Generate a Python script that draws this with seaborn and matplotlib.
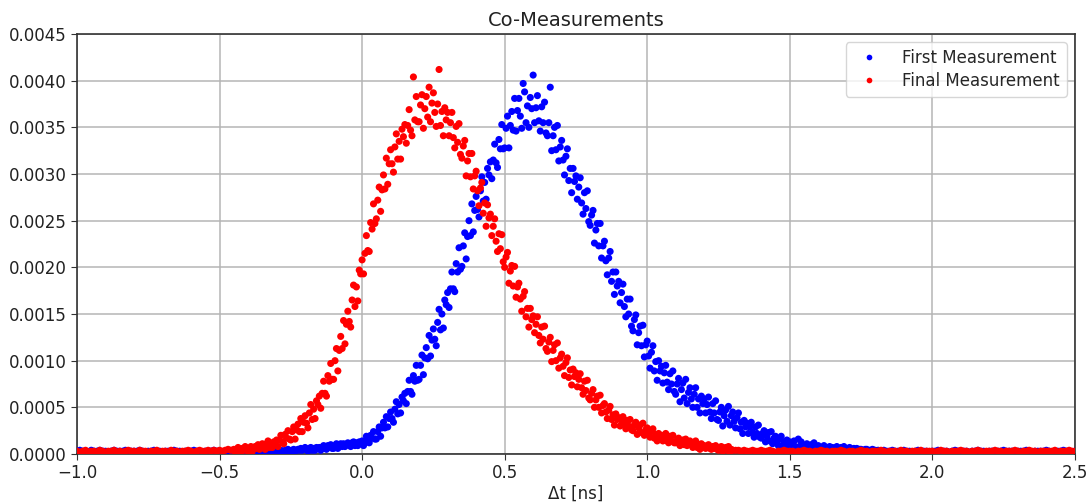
import numpy as np
import pandas as pd
import seaborn as sns
import matplotlib
matplotlib.use("Agg")
import matplotlib.pyplot as plt
from matplotlib.ticker import FuncFormatter

# counts per bin, in units of 1e-5
# Final Measurement (red)
final_left = [3, 2, 3, 4, 2, 3, 3, 2, 4, 3, 2, 3, 3, 4, 2, 3, 2, 3, 4, 3,
              3, 2, 4, 3, 3, 2, 3, 3, 4, 2, 3, 3, 2, 4, 3, 3, 2, 3, 3, 4,
              3, 2, 3, 4, 3, 3, 4, 3, 4, 3, 4, 3, 4, 5, 4]          # -1.00 .. -0.46, step 0.01
final_core = [
    5, 2, 5, 7, 3, 2, 6, 4, 8, 4,
    3, 6, 8, 3, 6, 8, 6, 10, 5, 8,
    11, 8, 5, 11, 14, 7, 11, 7, 13, 11,
    15, 8, 15, 20, 13, 11, 21, 17, 25, 16,
    15, 24, 29, 16, 26, 32, 24, 38, 24, 34,
    41, 33, 28, 44, 53, 37, 48, 38, 57, 53,
    62, 49, 65, 78, 65, 62, 84, 78, 97, 80,
    80, 100, 113, 89, 111, 126, 113, 143, 118, 139,
    153, 142, 136, 165, 181, 158, 179, 164, 197, 193,
    208, 193, 215, 234, 218, 217, 248, 241, 268, 247,
    252, 272, 286, 260, 283, 299, 284, 317, 289, 311,
    326, 311, 302, 329, 343, 316, 335, 316, 348, 340,
    353, 333, 352, 369, 347, 341, 404, 358, 383, 356,
    356, 374, 385, 349, 370, 383, 361, 393, 356, 376,
    387, 366, 351, 375, 412, 352, 367, 341, 371, 358,
    366, 341, 355, 366, 339, 328, 351, 334, 354, 321,
    317, 330, 336, 298, 314, 322, 297, 322, 284, 298,
    303, 282, 266, 285, 291, 258, 269, 244, 267, 253,
    257, 234, 244, 252, 228, 217, 236, 220, 235, 206,
    200, 211, 216, 183, 196, 202, 180, 201, 168, 179,
    183, 166, 153, 169, 174, 147, 156, 136, 156, 144,
    148, 130, 139, 147, 127, 119, 136, 123, 137, 113,
    110, 120, 125, 99, 111, 117, 100, 119, 92, 103,
    107, 94, 84, 98, 103, 82, 90, 74, 91, 83,
    87, 72, 80, 86, 71, 64, 78, 68, 79, 60,
    58, 65, 69, 50, 58, 62, 50, 63, 44, 52,
    54, 45, 38, 47, 51, 37, 42, 31, 43, 37,
    39, 30, 36, 40, 31, 27, 36, 30, 37, 26,
    25, 31, 34, 21, 28, 31, 23, 33, 20, 26,
    28, 22, 18, 24, 27, 17, 21, 14, 22, 18,
    20, 14, 18, 22, 14, 12, 19, 14, 20, 12,
    12, 15, 17, 9, 13, 15, 10, 16, 9, 12,
    14, 10, 7, 12, 14, 7, 10, 5, 11, 8,
    9, 6, 8, 10, 6, 5, 8, 6, 9, 5,
    4, 7, 8, 3, 5, 7, 4, 8, 2, 5,
    4]                                                          # -0.45 .. 1.30, step 0.005
final_right = [
    4, 4, 3, 4, 3, 3, 4, 3, 3, 4, 3, 3, 4, 3, 2, 3, 3, 4, 3, 3,
    3, 2, 3, 3, 4, 3, 3, 2, 3, 3, 4, 3, 3, 2, 3, 3, 3, 4, 3, 2,
    3, 3, 2, 3, 4, 3, 3, 2, 3, 3, 3, 4, 3, 2, 3, 3, 3, 2, 4, 3,
    3, 2, 3, 3, 3, 4, 2, 3, 3, 3, 2, 3, 4, 3, 3, 2, 3, 3, 3, 4,
    3, 3, 2, 3, 3, 4, 3, 2, 3, 3, 3, 4, 3, 3, 2, 3, 3, 3, 4, 3,
    2, 3, 3, 4, 3, 3, 2, 3, 3, 3, 3, 3, 4, 2, 3, 3, 3, 4, 3, 3]  # 1.31 .. 2.50, step 0.01

# First Measurement (blue)
first_left = [3, 4, 3, 3, 2, 4, 3, 3, 4, 3, 3, 2, 3, 4, 3, 3, 3, 4, 2, 3,
              3, 3, 4, 3, 2, 3, 3, 4, 3, 3, 2, 3, 3, 3, 4, 3, 3, 2, 3, 3,
              3, 4, 3, 3, 2, 3, 3, 3, 4, 3, 3, 2, 3, 3, 3, 4, 3, 2, 3, 3,
              3, 3, 2, 3, 4, 3, 3, 2, 3, 3]                    # -1.00 .. -0.31, step 0.01
first_core = [
    4, 2, 3, 4, 3, 2, 4, 4, 5, 3,
    3, 4, 5, 3, 4, 5, 4, 6, 4, 5,
    7, 5, 3, 6, 7, 4, 6, 4, 7, 6,
    7, 4, 7, 9, 6, 5, 9, 7, 10, 6,
    6, 9, 11, 6, 9, 11, 8, 11, 8, 10,
    12, 10, 8, 12, 13, 9, 12, 9, 13, 12,
    14, 9, 14, 19, 13, 12, 20, 17, 24, 16,
    16, 24, 29, 19, 28, 34, 28, 40, 29, 38,
    45, 38, 34, 48, 56, 43, 53, 44, 61, 57,
    65, 54, 67, 79, 67, 64, 84, 78, 95, 79,
    80, 95, 106, 85, 103, 114, 102, 127, 105, 122,
    134, 123, 116, 141, 155, 133, 150, 135, 165, 160,
    173, 157, 177, 195, 177, 174, 204, 195, 221, 198,
    201, 223, 237, 209, 233, 250, 234, 268, 238, 261,
    276, 262, 254, 282, 297, 271, 291, 273, 306, 299,
    313, 295, 315, 332, 312, 307, 337, 327, 353, 327,
    328, 349, 362, 328, 352, 367, 347, 381, 346, 368,
    381, 362, 349, 397, 388, 355, 373, 350, 382, 370,
    406, 355, 371, 384, 357, 346, 372, 355, 377, 344,
    341, 355, 393, 325, 341, 350, 326, 352, 314, 329,
    336, 315, 299, 319, 327, 293, 306, 280, 306, 292,
    298, 273, 286, 296, 269, 257, 280, 263, 282, 249,
    245, 256, 261, 226, 240, 247, 223, 247, 210, 223,
    228, 207, 192, 210, 217, 185, 195, 171, 195, 180,
    185, 162, 173, 182, 158, 147, 166, 150, 166, 137,
    132, 144, 149, 117, 130, 137, 116, 138, 104, 117,
    121, 105, 92, 109, 116, 89, 99, 79, 100, 89,
    94, 76, 87, 95, 77, 69, 86, 75, 89, 67,
    64, 75, 81, 56, 69, 76, 60, 80, 54, 66,
    71, 59, 50, 64, 71, 50, 59, 44, 62, 54,
    59, 44, 53, 61, 45, 38, 54, 44, 57, 37,
    36, 45, 50, 30, 41, 47, 35, 51, 31, 41,
    45, 35, 28, 39, 44, 27, 34, 22, 36, 29,
    33, 22, 29, 34, 23, 18, 29, 22, 31, 18,
    17, 22, 25, 13, 19, 23, 14, 24, 11, 17,
    19, 13, 9, 16, 19, 9, 13, 7, 15, 11,
    13, 8, 11, 14, 8, 6, 16, 8, 13, 6,
    6, 9, 11, 4, 8, 10, 6, 12, 4, 8,
    9, 6, 4, 7, 9, 5, 7, 4, 8, 6,
    7, 4, 6, 8, 5, 4, 7, 5, 8, 4,
    4, 6, 7, 3, 5, 6, 4, 6, 3, 5,
    5, 4, 3, 5, 5, 3, 4, 2, 5, 4,
    4]                                                          # -0.30 .. 1.80, step 0.005
first_right = [4, 3, 4, 3, 3, 4, 3, 3, 3, 4, 3, 3, 2, 3, 4, 3, 3, 3, 2, 3,
               3, 4, 3, 3, 3, 2, 3, 4, 3, 3, 3, 3, 2, 3, 3, 4, 3, 3, 2, 3,
               3, 2, 3, 3, 4, 3, 3, 3, 2, 3, 3, 3, 4, 3, 2, 3, 3, 3, 3, 4,
               3, 2, 3, 3, 3, 4, 3, 3, 2, 3]                   # 1.81 .. 2.50, step 0.01


def series(name, parts):
    frames = []
    for (a, b), vals in parts:
        frames.append(pd.DataFrame({
            'dt': np.linspace(a, b, len(vals)),
            'val': np.array(vals) * 1e-5,
            'Measurement': name}))
    return pd.concat(frames)


df = pd.concat([
    series('First Measurement', [((-1.0, -0.31), first_left), ((-0.30, 1.80), first_core), ((1.81, 2.50), first_right)]),
    series('Final Measurement', [((-1.0, -0.46), final_left), ((-0.45, 1.30), final_core), ((1.31, 2.50), final_right)]),
]).reset_index(drop=True)

sns.set_style('ticks')
plt.rcParams['font.family'] = ['DejaVu Sans']
plt.rcParams['font.size'] = 12

fig = plt.figure(figsize=(10.89, 5.04), dpi=100)
ax = fig.add_axes([0.0707, 0.0992, 0.9163, 0.8333])

sns.scatterplot(data=df, x='dt', y='val', hue='Measurement',
                palette={'First Measurement': 'blue', 'Final Measurement': 'red'},
                s=26, linewidth=0, ax=ax, zorder=3)

ax.set_xlim(-1.0, 2.5)
ax.set_ylim(0, 0.0045)
ax.set_xticks(np.arange(-1.0, 2.51, 0.5))
ax.set_yticks(np.arange(0, 0.00451, 0.0005))
ax.xaxis.set_major_formatter(FuncFormatter(lambda v, p: f'{v:.1f}'.replace('-', '\u2212')))
ax.yaxis.set_major_formatter(FuncFormatter(lambda v, p: f'{v:.4f}'))
ax.tick_params(labelsize=12, length=4, color='#333333', labelcolor='#222222')
ax.grid(True, color='#b5b5b5', linewidth=1.1)
ax.set_axisbelow(True)
for sp in ax.spines.values():
    sp.set_color('#333333')
    sp.set_linewidth(1.2)

ax.set_title('Co-Measurements', fontsize=14, color='#222222')
ax.set_xlabel('Δt [ns]', fontsize=12, labelpad=2, color='#222222')
ax.set_ylabel('')
leg = ax.legend(loc='upper right', fontsize=12, framealpha=0.8, markerscale=0.8,
                handletextpad=1.0, labelspacing=0.3, borderpad=0.4)
leg.set_title(None)

fig.savefig('out.png', dpi=100)
